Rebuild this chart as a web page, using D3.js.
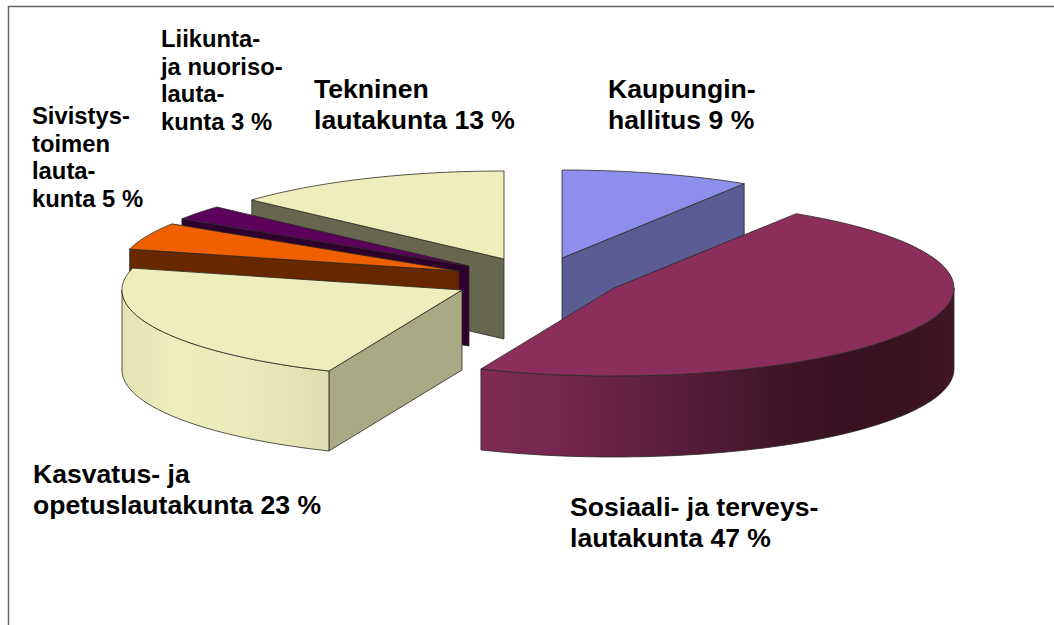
<!DOCTYPE html>
<html><head><meta charset="utf-8">
<script src="https://cdn.jsdelivr.net/npm/d3@7/dist/d3.min.js"></script>
<style>html,body{margin:0;padding:0;background:#fff}svg{display:block}</style>
</head><body><div id="c"></div>
<script>
// Data (slice shares; the printed labels are rounded)
const categories = ["Kaupunginhallitus","Sosiaali- ja terveyslautakunta","Kasvatus- ja opetuslautakunta","Sivistystoimen lautakunta","Liikunta- ja nuorisolautakunta","Tekninen lautakunta"];
const values = [9, 47.4, 22.6, 5, 2.7, 13.3];
const labelLines = [
  ["Kaupungin-","hallitus 9 %"],
  ["Sosiaali- ja terveys-","lautakunta 47 %"],
  ["Kasvatus- ja","opetuslautakunta 23 %"],
  ["Sivistys-","toimen","lauta-","kunta 5 %"],
  ["Liikunta-","ja nuoriso-","lauta-","kunta 3 %"],
  ["Tekninen","lautakunta 13 %"]
];

// Styling and layout, kept apart from the data
const topColors  = ["#8e8eec","#8c2e5c","#eeeebc","#f06000","#5c005c","#eeeebc"];
const sideColors = ["#5c5c94","#561c38","#a9a985","#672800","#2d002d","#67674f"];
const explodedApex = [[562,258],[614,288],[462,290],[459,271],[469,266],[504,259]];
const depths = [80,81,80,80,80,80];
const labelPos = [[608,98,26.6,31],[570,516,26.6,31],[33,483,26.6,31],[32,124,23.8,27.5],[161,47,23.8,27.5],[314,98,26.6,31]];
const drawOrder = [5,0,4,3,2,1];
const RX = 340, RY = 88;

const W = 1054, H = 625;
const svg = d3.select("#c").append("svg").attr("width",W).attr("height",H);
const defs = svg.append("defs");
function grad(id, stops){
  const g = defs.append("linearGradient").attr("id",id).attr("x1","0").attr("x2","1").attr("y1","0").attr("y2","0");
  stops.forEach(([o,c])=>g.append("stop").attr("offset",o).attr("stop-color",c));
}
grad("wall1",[[0,"#7e2a52"],[0.15,"#752850"],[0.4,"#5a1e3c"],[0.65,"#3e1426"],[0.85,"#361220"],[1,"#3e1626"]]);
grad("wall2",[[0,"#e2e2b4"],[0.25,"#eeeebc"],[0.6,"#eaeaba"],[1,"#dedeb0"]]);
const wallFill = {1:"url(#wall1)",2:"url(#wall2)"};

svg.append("path").attr("d",`M8.5,${H}V6.5H${W}`).attr("fill","none").attr("stroke","#666").attr("stroke-width",1.5);

const arcs = d3.pie().sort(null).value(d=>d)(values);
const line = d3.line();

function slicePoint(i, a, dz){
  const x = d3.scaleLinear().domain([-1,1]).range([explodedApex[i][0]-RX, explodedApex[i][0]+RX]);
  const y = d3.scaleLinear().domain([-1,1]).range([explodedApex[i][1]+dz-RY, explodedApex[i][1]+dz+RY]);
  return [x(Math.sin(a)), y(-Math.cos(a))];
}
function arcPts(i,a0,a1,dz){
  return d3.range(0,61).map(k=>slicePoint(i, a0+(a1-a0)*k/60, dz));
}
const g = svg.append("g").attr("stroke","#2a2a22").attr("stroke-width",0.8).attr("stroke-linejoin","round");

drawOrder.forEach(i=>{
  const d = arcs[i], a0 = d.startAngle, a1 = d.endAngle, c = explodedApex[i], dz = depths[i];
  const edge = a => [c, slicePoint(i,a,0), slicePoint(i,a,dz), [c[0],c[1]+dz]];
  if (Math.sin(a0) < -1e-6) g.append("path").attr("d",line(edge(a0))+"Z").attr("fill",sideColors[i]);
  if (Math.sin(a1) >  1e-6) g.append("path").attr("d",line(edge(a1))+"Z").attr("fill",sideColors[i]);
  const lo = Math.max(a0, Math.PI/2), hi = Math.min(a1, Math.PI*1.5);
  if (hi > lo) {
    const pts = arcPts(i,lo,hi,0).concat(arcPts(i,hi,lo,dz));
    g.append("path").attr("d",line(pts)+"Z").attr("fill",wallFill[i]||sideColors[i]);
  }
  g.append("path").attr("d",line([c].concat(arcPts(i,a0,a1,0)))+"Z").attr("fill",topColors[i]);
});

const t = svg.append("g").attr("font-family","'Liberation Sans',Arial,sans-serif").attr("font-weight","bold").attr("fill","#000");
labelLines.forEach((lines,i)=>{
  const [x,y,fs,lh] = labelPos[i];
  const el = t.append("text").attr("font-size",fs).attr("data-name",categories[i]);
  lines.forEach((s,k)=>el.append("tspan").attr("x",x).attr("y",y+k*lh).text(s));
});
</script></body></html>
